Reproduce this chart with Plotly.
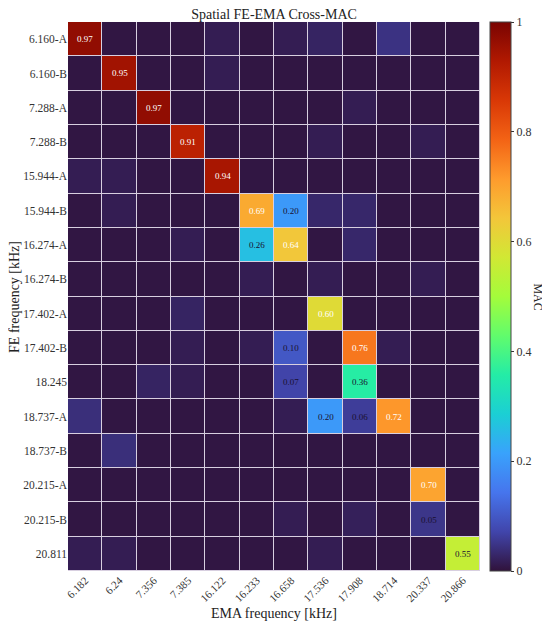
import numpy as np
import plotly.graph_objects as go

# FE modes (rows) and EMA modes (columns)
fe_labels = ['6.160-A', '6.160-B', '7.288-A', '7.288-B', '15.944-A', '15.944-B',
             '16.274-A', '16.274-B', '17.402-A', '17.402-B', '18.245', '18.737-A',
             '18.737-B', '20.215-A', '20.215-B', '20.811']
ema_labels = ['6.182', '6.24', '7.356', '7.385', '16.122', '16.233',
              '16.658', '17.536', '17.908', '18.714', '20.337', '20.866']

# Cross-MAC values
mac = [
    [0.97, 0.005, 0.005, 0.005, 0.015, 0.005, 0.015, 0.025, 0.005, 0.045, 0.005, 0.005],
    [0.005, 0.95, 0.005, 0.005, 0.015, 0.005, 0.005, 0.005, 0.005, 0.005, 0.005, 0.005],
    [0.005, 0.005, 0.97, 0.005, 0.005, 0.005, 0.005, 0.005, 0.015, 0.005, 0.005, 0.005],
    [0.005, 0.005, 0.005, 0.91, 0.005, 0.005, 0.005, 0.015, 0.005, 0.005, 0.015, 0.005],
    [0.015, 0.015, 0.005, 0.005, 0.94, 0.005, 0.005, 0.005, 0.005, 0.005, 0.005, 0.005],
    [0.005, 0.015, 0.005, 0.005, 0.005, 0.69, 0.20, 0.03, 0.03, 0.005, 0.005, 0.005],
    [0.005, 0.005, 0.005, 0.015, 0.005, 0.26, 0.64, 0.005, 0.03, 0.005, 0.005, 0.005],
    [0.005, 0.005, 0.005, 0.005, 0.005, 0.015, 0.005, 0.015, 0.005, 0.005, 0.015, 0.005],
    [0.005, 0.005, 0.005, 0.025, 0.005, 0.005, 0.005, 0.60, 0.005, 0.005, 0.005, 0.005],
    [0.005, 0.005, 0.005, 0.015, 0.005, 0.015, 0.10, 0.005, 0.76, 0.015, 0.005, 0.005],
    [0.005, 0.005, 0.025, 0.015, 0.005, 0.005, 0.07, 0.005, 0.36, 0.005, 0.005, 0.005],
    [0.04, 0.005, 0.005, 0.005, 0.005, 0.005, 0.015, 0.20, 0.06, 0.72, 0.005, 0.005],
    [0.005, 0.04, 0.005, 0.005, 0.005, 0.005, 0.005, 0.005, 0.005, 0.005, 0.005, 0.005],
    [0.005, 0.005, 0.005, 0.005, 0.005, 0.005, 0.005, 0.005, 0.005, 0.005, 0.70, 0.005],
    [0.005, 0.005, 0.005, 0.005, 0.005, 0.005, 0.015, 0.005, 0.02, 0.005, 0.05, 0.005],
    [0.015, 0.015, 0.005, 0.005, 0.005, 0.005, 0.005, 0.015, 0.005, 0.005, 0.005, 0.55],
]

font = 'Liberation Serif, Times New Roman, serif'

fig = go.Figure(go.Heatmap(
    z=mac, x=ema_labels, y=fe_labels,
    colorscale='Turbo', zmin=0, zmax=1,
    xgap=1, ygap=1,
    hoverongaps=False,
    colorbar=dict(
        tickvals=[0, 0.2, 0.4, 0.6, 0.8, 1],
        ticktext=['0', '0.2', '0.4', '0.6', '0.8', '1'],
        ticks='outside', ticklen=3, tickcolor='#333',
        tickfont=dict(family=font, size=12, color='#333'),
        thickness=21, len=1, lenmode='fraction', y=0.5, yanchor='middle',
        x=1.024, xanchor='left', xpad=0, ypad=0,
        outlinewidth=1, outlinecolor='#444',
    ),
))

# label cells with a MAC of 0.05 or more (category index positions)
for i, row in enumerate(mac):
    for j, v in enumerate(row):
        if v >= 0.05:
            fig.add_annotation(
                x=j, y=i, text=f'{v:.2f}', showarrow=False,
                font=dict(family=font, size=9, color='white' if v >= 0.58 else '#1a1030'))

# axis and colorbar titles
fig.add_annotation(text='EMA frequency [kHz]', xref='paper', yref='paper',
                   x=0.5, y=-0.078, xanchor='center', yanchor='middle', showarrow=False,
                   font=dict(family=font, size=14, color='#222'))
fig.add_annotation(text='FE frequency [kHz]', xref='paper', yref='paper', textangle=-90,
                   x=-0.13, y=0.5, xanchor='center', yanchor='middle', showarrow=False,
                   font=dict(family=font, size=14, color='#222'))
fig.add_annotation(text='MAC', xref='paper', yref='paper', textangle=90,
                   x=1.141, y=0.5, xanchor='center', yanchor='middle', showarrow=False,
                   font=dict(family=font, size=12, color='#222'))

fig.update_layout(
    width=550, height=626,
    margin=dict(l=60, r=78, t=14, b=63),
    paper_bgcolor='white', plot_bgcolor='#d8cfe0',
    font=dict(family=font, size=12, color='#222'),
    title=dict(text='Spatial FE-EMA Cross-MAC', x=0.5, xanchor='center', xref='paper',
               y=1, yref='paper', yanchor='bottom', pad=dict(b=3),
               font=dict(family=font, size=14, color='#222')),
)
fig.update_xaxes(type='category', automargin=False,
                 tickangle=-45, showgrid=False, zeroline=False, ticks='', ticklen=0,
                 tickfont=dict(family=font, size=11, color='#333'))
fig.update_yaxes(type='category', automargin=False, autorange='reversed',
                 showgrid=False, zeroline=False, ticks='',
                 tickfont=dict(family=font, size=11.5, color='#333'))

fig.write_html("out.html")
